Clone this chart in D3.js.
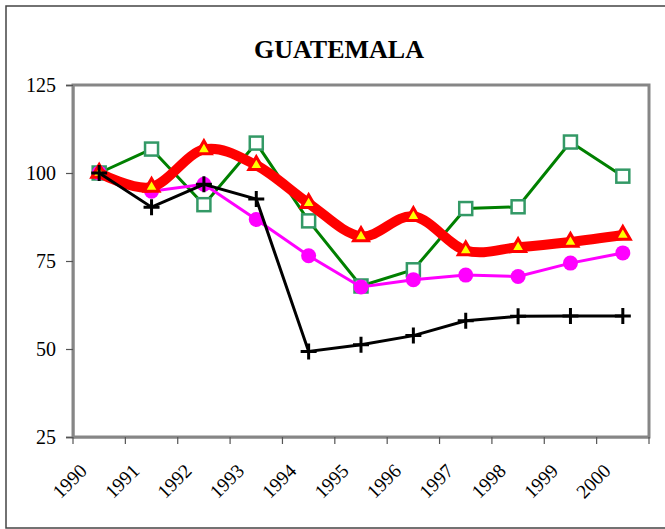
<!DOCTYPE html>
<html>
<head>
<meta charset="utf-8">
<script src="https://cdn.jsdelivr.net/npm/d3@7"></script>
<style>
  body { margin: 0; background: #fff; }
  svg { display: block; font-family: "Liberation Serif", "Times New Roman", serif; }
</style>
</head>
<body>
<div id="chart"></div>
<script>
const years = ["1990", "1991", "1992", "1993", "1994", "1995", "1996", "1997", "1998", "1999", "2000"];
const greenSquares = [100, 106.8, 91, 108.5, 86.4, 67.9, 72.5, 89.9, 90.4, 108.8, 99.1];
const redTriangles = [100, 96, 106.7, 102.2, 91.4, 82, 87.7, 78, 78.9, 80.4, 82.4];
const magentaCircles = [100, 94.8, 96.8, 86.8, 76.5, 67.6, 69.7, 71, 70.6, 74.4, 77.3];
const blackCrosses = [100, 90.3, 96.8, 92.6, 49.3, 51.2, 53.8, 58, 59.3, 59.4, 59.4];
const yTicks = [25, 50, 75, 100, 125];

const width = 665;
const height = 529;
const plot = { left: 73, top: 85, right: 649, bottom: 437 };

const svg = d3.select("#chart")
  .append("svg")
  .attr("width", width)
  .attr("height", height);

// outer chart border
svg.append("rect")
  .attr("x", 6)
  .attr("y", 6)
  .attr("width", 670)
  .attr("height", 522)
  .attr("fill", "none")
  .attr("stroke", "#444")
  .attr("stroke-width", 1.5);

svg.append("text")
  .attr("x", 339)
  .attr("y", 58)
  .attr("text-anchor", "middle")
  .style("font-size", "26px")
  .style("font-weight", "bold")
  .text("GUATEMALA");

const x = d3.scaleBand()
  .domain(years)
  .range([plot.left, plot.right])
  .padding(0);

const y = d3.scaleLinear()
  .domain([25, 125])
  .range([plot.bottom, plot.top]);

const cx = d => x(d) + x.bandwidth() / 2;

// plot area frame
svg.append("rect")
  .attr("x", plot.left)
  .attr("y", plot.top)
  .attr("width", plot.right - plot.left)
  .attr("height", plot.bottom - plot.top)
  .attr("fill", "none")
  .attr("stroke", "#868686")
  .attr("stroke-width", 3);

const yAxis = svg.append("g")
  .attr("transform", `translate(${plot.left},0)`)
  .call(d3.axisLeft(y).tickValues(yTicks).tickSize(7).tickPadding(10));

yAxis.select(".domain").attr("stroke", "#868686").attr("stroke-width", 2);
yAxis.selectAll(".tick line").attr("stroke", "#555").attr("stroke-width", 1.2);
yAxis.selectAll("text")
  .style("font-size", "20px")
  .style("font-family", "Liberation Serif, serif")
  .attr("fill", "#000");

const xAxis = svg.append("g")
  .attr("transform", `translate(0,${plot.bottom})`)
  .call(d3.axisBottom(x).tickSize(0).tickPadding(0));

xAxis.select(".domain").attr("stroke", "#868686").attr("stroke-width", 2);
xAxis.selectAll(".tick text")
  .style("font-size", "19.5px")
  .style("font-family", "Liberation Serif, serif")
  .attr("fill", "#000")
  .attr("text-anchor", "end")
  .attr("y", 0)
  .attr("dy", 0)
  .attr("transform", "translate(-11,35) rotate(-45)");

// tick marks between categories
const boundaries = years.map(d => x(d)).concat([x.range()[1]]);
svg.append("g")
  .selectAll("line")
  .data(boundaries)
  .join("line")
  .attr("x1", d => d)
  .attr("x2", d => d)
  .attr("y1", plot.bottom)
  .attr("y2", plot.bottom + 7)
  .attr("stroke", "#555")
  .attr("stroke-width", 1.2);

function series(values) {
  return years.map((yr, i) => ({ year: yr, value: values[i] }));
}

const straight = d3.line().x(d => cx(d.year)).y(d => y(d.value));
const smooth = d3.line().x(d => cx(d.year)).y(d => y(d.value)).curve(d3.curveCardinal.tension(0));

// green squares
const gData = series(greenSquares);
svg.append("path")
  .attr("d", straight(gData))
  .attr("fill", "none")
  .attr("stroke", "#008000")
  .attr("stroke-width", 3);
svg.append("g")
  .selectAll("rect")
  .data(gData)
  .join("rect")
  .attr("x", d => cx(d.year) - 6.5)
  .attr("y", d => y(d.value) - 6.5)
  .attr("width", 13)
  .attr("height", 13)
  .attr("fill", "#fff")
  .attr("stroke", "#339966")
  .attr("stroke-width", 2.5);

// magenta circles
const mData = series(magentaCircles);
svg.append("path")
  .attr("d", straight(mData))
  .attr("fill", "none")
  .attr("stroke", "#ff00ff")
  .attr("stroke-width", 3);
svg.append("g")
  .selectAll("circle")
  .data(mData)
  .join("circle")
  .attr("cx", d => cx(d.year))
  .attr("cy", d => y(d.value))
  .attr("r", 7.5)
  .attr("fill", "#ff00ff");

// red smoothed line with yellow triangles
const rData = series(redTriangles);
svg.append("path")
  .attr("d", smooth(rData))
  .attr("fill", "none")
  .attr("stroke", "#ff0000")
  .attr("stroke-width", 10)
  .attr("stroke-linejoin", "round");
svg.append("g")
  .selectAll("path")
  .data(rData)
  .join("path")
  .attr("d", d3.symbol().type(d3.symbolTriangle).size(95))
  .attr("transform", d => `translate(${cx(d.year)},${y(d.value)})`)
  .attr("fill", "#ffff00")
  .attr("stroke", "#ff0000")
  .attr("stroke-width", 3);

// black crosses
const bData = series(blackCrosses);
svg.append("path")
  .attr("d", straight(bData))
  .attr("fill", "none")
  .attr("stroke", "#000")
  .attr("stroke-width", 3);
svg.append("g")
  .selectAll("path")
  .data(bData)
  .join("path")
  .attr("d", "M-8,0H8M0,-8V8")
  .attr("transform", d => `translate(${cx(d.year)},${y(d.value)})`)
  .attr("stroke", "#000")
  .attr("stroke-width", 3);
</script>
</body>
</html>
